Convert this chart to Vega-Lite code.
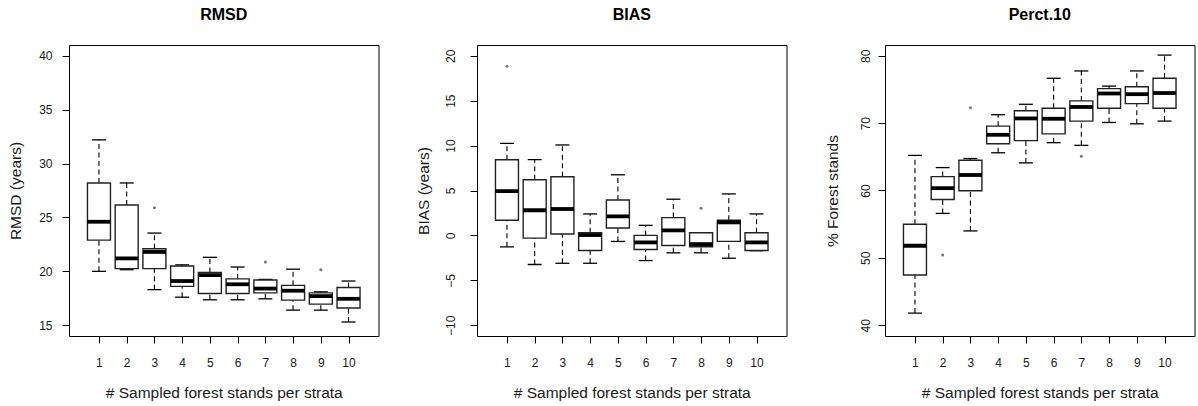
{
  "$schema": "https://vega.github.io/schema/vega-lite/v6.json",
  "autosize": {"type": "pad"},
  "padding": {"left": 7, "top": 6, "right": 1, "bottom": 3},
  "background": "white",
  "config": {
    "font": "Liberation Sans",
    "view": {"stroke": "black", "strokeWidth": 1},
    "concat": {"spacing": 98},
    "axis": {"grid": false, "domain": false, "tickColor": "black", "tickSize": 7, "labelColor": "#1a1a1a", "labelFontSize": 12, "titleColor": "#1a1a1a", "titleFontSize": 15.5, "titleFontWeight": "normal", "labelFont": "Liberation Sans", "titleFont": "Liberation Sans"},
    "title": {"fontSize": 16, "fontWeight": "bold", "color": "black", "baseline": "middle", "offset": 22, "font": "Liberation Sans"}
  },
  "bounds": "flush",
  "datasets": {
    "rmsd": [
      {"n": 1, "lo": 20.0, "q1": 22.9, "med": 24.6, "q3": 28.2, "hi": 32.2},
      {"n": 2, "lo": 20.15, "q1": 20.25, "med": 21.2, "q3": 26.15, "hi": 28.2},
      {"n": 3, "lo": 18.3, "q1": 20.25, "med": 21.8, "q3": 22.1, "hi": 23.55},
      {"n": 4, "lo": 17.6, "q1": 18.6, "med": 19.1, "q3": 20.5, "hi": 20.6},
      {"n": 5, "lo": 17.36, "q1": 17.95, "med": 19.65, "q3": 19.9, "hi": 21.3},
      {"n": 6, "lo": 17.36, "q1": 17.95, "med": 18.8, "q3": 19.3, "hi": 20.4},
      {"n": 7, "lo": 17.45, "q1": 18.0, "med": 18.4, "q3": 19.2, "hi": 19.25},
      {"n": 8, "lo": 16.4, "q1": 17.33, "med": 18.2, "q3": 18.7, "hi": 20.2},
      {"n": 9, "lo": 16.4, "q1": 16.96, "med": 17.7, "q3": 18.0, "hi": 18.1},
      {"n": 10, "lo": 15.3, "q1": 16.6, "med": 17.45, "q3": 18.5, "hi": 19.1}
    ],
    "rmsdOut": [
      {"n": 3, "v": 25.9},
      {"n": 7, "v": 20.87},
      {"n": 9, "v": 20.15}
    ],
    "bias": [
      {"n": 1, "lo": -1.27, "q1": 1.68, "med": 4.92, "q3": 8.43, "hi": 10.25},
      {"n": 2, "lo": -3.24, "q1": -0.3, "med": 2.8, "q3": 6.19, "hi": 8.43},
      {"n": 3, "lo": -3.1, "q1": 0.15, "med": 2.94, "q3": 6.53, "hi": 10.07},
      {"n": 4, "lo": -3.1, "q1": -1.68, "med": 0.04, "q3": 0.3, "hi": 2.39},
      {"n": 5, "lo": -0.67, "q1": 0.82, "med": 2.12, "q3": 3.95, "hi": 6.75},
      {"n": 6, "lo": -2.8, "q1": -1.57, "med": -0.78, "q3": 0.0, "hi": 1.12},
      {"n": 7, "lo": -1.94, "q1": -1.12, "med": 0.56, "q3": 1.98, "hi": 4.03},
      {"n": 8, "lo": -1.94, "q1": -1.27, "med": -0.97, "q3": 0.3, "hi": 0.3},
      {"n": 9, "lo": -2.54, "q1": -0.67, "med": 1.45, "q3": 1.68, "hi": 4.62},
      {"n": 10, "lo": -1.7, "q1": -1.68, "med": -0.78, "q3": 0.3, "hi": 2.39}
    ],
    "biasOut": [
      {"n": 1, "v": 18.83},
      {"n": 8, "v": 3.02}
    ],
    "perc": [
      {"n": 1, "lo": 41.8, "q1": 47.45, "med": 51.8, "q3": 55.0, "hi": 65.2},
      {"n": 2, "lo": 56.6, "q1": 58.66, "med": 60.35, "q3": 62.06, "hi": 63.4},
      {"n": 3, "lo": 54.0, "q1": 59.97, "med": 62.3, "q3": 64.5, "hi": 64.74},
      {"n": 4, "lo": 65.6, "q1": 66.93, "med": 68.27, "q3": 69.55, "hi": 71.25},
      {"n": 5, "lo": 64.1, "q1": 67.4, "med": 70.7, "q3": 71.85, "hi": 72.8},
      {"n": 6, "lo": 67.1, "q1": 68.4, "med": 70.65, "q3": 72.2, "hi": 76.66},
      {"n": 7, "lo": 66.7, "q1": 70.3, "med": 72.4, "q3": 73.3, "hi": 77.75},
      {"n": 8, "lo": 70.1, "q1": 72.2, "med": 74.4, "q3": 75.13, "hi": 75.5},
      {"n": 9, "lo": 69.9, "q1": 72.9, "med": 74.3, "q3": 75.4, "hi": 77.75},
      {"n": 10, "lo": 70.3, "q1": 72.2, "med": 74.47, "q3": 76.66, "hi": 80.1}
    ],
    "percOut": [
      {"n": 2, "v": 50.43},
      {"n": 3, "v": 72.3},
      {"n": 7, "v": 65.1}
    ]
  },
  "hconcat": [
    {
      "width": 309.5, "height": 291,
      "title": "RMSD",
      "data": {"name": "rmsd"},
      "encoding": {
        "x": {"field": "n", "type": "quantitative", "scale": {"domain": [0.1, 10.9], "nice": false, "zero": false},
          "axis": {"values": [1,2,3,4,5,6,7,8,9,10], "labelPadding": 14, "labelFlush": false, "title": "# Sampled forest stands per strata", "titleY": 56, "titleBaseline": "middle"}}
      },
      "layer": [
        {"mark": {"type": "rule", "strokeDash": [5, 3.5], "color": "black", "strokeWidth": 1.1}, "encoding": {"y": {"field": "q3", "type": "quantitative", "scale": {"domain": [14, 41], "nice": false, "zero": false}, "axis": {"values": [15,20,25,30,35,40], "labelAngle": 0, "labelPadding": 10, "title": "RMSD  (years)", "titleX": -54, "titleBaseline": "middle"}}, "y2": {"field": "hi"}}},
        {"mark": {"type": "rule", "strokeDash": [5, 3.5], "color": "black", "strokeWidth": 1.1}, "encoding": {"y": {"field": "lo", "type": "quantitative"}, "y2": {"field": "q1"}}},
        {"mark": {"type": "tick", "orient": "horizontal", "size": 14, "thickness": 1.3, "color": "black", "opacity": 1}, "encoding": {"y": {"field": "hi", "type": "quantitative"}}},
        {"mark": {"type": "tick", "orient": "horizontal", "size": 14, "thickness": 1.3, "color": "black", "opacity": 1}, "encoding": {"y": {"field": "lo", "type": "quantitative"}}},
        {"mark": {"type": "bar", "orient": "vertical", "size": 23, "fill": "white", "stroke": "#222", "strokeWidth": 1.4}, "encoding": {"y": {"field": "q1", "type": "quantitative"}, "y2": {"field": "q3"}}},
        {"mark": {"type": "tick", "orient": "horizontal", "size": 23, "thickness": 3.8, "color": "black", "opacity": 1}, "encoding": {"y": {"field": "med", "type": "quantitative"}}},
        {"data": {"name": "rmsdOut"}, "mark": {"type": "point", "shape": "circle", "size": 9, "filled": true, "color": "#777", "opacity": 1}, "encoding": {"y": {"field": "v", "type": "quantitative"}}}
      ]
    },
    {
      "width": 309.5, "height": 291,
      "title": "BIAS",
      "data": {"name": "bias"},
      "encoding": {
        "x": {"field": "n", "type": "quantitative", "scale": {"domain": [0.1, 10.9], "nice": false, "zero": false},
          "axis": {"values": [1,2,3,4,5,6,7,8,9,10], "labelPadding": 14, "labelFlush": false, "title": "# Sampled forest stands per strata", "titleY": 56, "titleBaseline": "middle"}}
      },
      "layer": [
        {"mark": {"type": "rule", "strokeDash": [5, 3.5], "color": "black", "strokeWidth": 1.1}, "encoding": {"y": {"field": "q3", "type": "quantitative", "scale": {"domain": [-11.2, 21.2], "nice": false, "zero": false}, "axis": {"values": [-10,-5,0,5,10,15,20], "labelAngle": -90, "labelAlign": "center", "labelBaseline": "middle", "labelPadding": 19.5, "labelFlush": false, "title": "BIAS  (years)", "titleX": -53.5, "titleBaseline": "middle"}}, "y2": {"field": "hi"}}},
        {"mark": {"type": "rule", "strokeDash": [5, 3.5], "color": "black", "strokeWidth": 1.1}, "encoding": {"y": {"field": "lo", "type": "quantitative"}, "y2": {"field": "q1"}}},
        {"mark": {"type": "tick", "orient": "horizontal", "size": 14, "thickness": 1.3, "color": "black", "opacity": 1}, "encoding": {"y": {"field": "hi", "type": "quantitative"}}},
        {"mark": {"type": "tick", "orient": "horizontal", "size": 14, "thickness": 1.3, "color": "black", "opacity": 1}, "encoding": {"y": {"field": "lo", "type": "quantitative"}}},
        {"mark": {"type": "bar", "orient": "vertical", "size": 23, "fill": "white", "stroke": "#222", "strokeWidth": 1.4}, "encoding": {"y": {"field": "q1", "type": "quantitative"}, "y2": {"field": "q3"}}},
        {"mark": {"type": "tick", "orient": "horizontal", "size": 23, "thickness": 3.8, "color": "black", "opacity": 1}, "encoding": {"y": {"field": "med", "type": "quantitative"}}},
        {"data": {"name": "biasOut"}, "mark": {"type": "point", "shape": "circle", "size": 9, "filled": true, "color": "#777", "opacity": 1}, "encoding": {"y": {"field": "v", "type": "quantitative"}}}
      ]
    },
    {
      "width": 309.5, "height": 291,
      "title": "Perct.10",
      "data": {"name": "perc"},
      "encoding": {
        "x": {"field": "n", "type": "quantitative", "scale": {"domain": [0.1, 10.9], "nice": false, "zero": false},
          "axis": {"values": [1,2,3,4,5,6,7,8,9,10], "labelPadding": 14, "labelFlush": false, "title": "# Sampled forest stands per strata", "titleY": 56, "titleBaseline": "middle"}}
      },
      "layer": [
        {"mark": {"type": "rule", "strokeDash": [5, 3.5], "color": "black", "strokeWidth": 1.1}, "encoding": {"y": {"field": "q3", "type": "quantitative", "scale": {"domain": [38.4, 81.6], "nice": false, "zero": false}, "axis": {"values": [40,50,60,70,80], "labelAngle": -90, "labelAlign": "center", "labelBaseline": "middle", "labelPadding": 13, "labelFlush": false, "title": "% Forest stands", "titleX": -53, "titleBaseline": "middle"}}, "y2": {"field": "hi"}}},
        {"mark": {"type": "rule", "strokeDash": [5, 3.5], "color": "black", "strokeWidth": 1.1}, "encoding": {"y": {"field": "lo", "type": "quantitative"}, "y2": {"field": "q1"}}},
        {"mark": {"type": "tick", "orient": "horizontal", "size": 14, "thickness": 1.3, "color": "black", "opacity": 1}, "encoding": {"y": {"field": "hi", "type": "quantitative"}}},
        {"mark": {"type": "tick", "orient": "horizontal", "size": 14, "thickness": 1.3, "color": "black", "opacity": 1}, "encoding": {"y": {"field": "lo", "type": "quantitative"}}},
        {"mark": {"type": "bar", "orient": "vertical", "size": 23, "fill": "white", "stroke": "#222", "strokeWidth": 1.4}, "encoding": {"y": {"field": "q1", "type": "quantitative"}, "y2": {"field": "q3"}}},
        {"mark": {"type": "tick", "orient": "horizontal", "size": 23, "thickness": 3.8, "color": "black", "opacity": 1}, "encoding": {"y": {"field": "med", "type": "quantitative"}}},
        {"data": {"name": "percOut"}, "mark": {"type": "point", "shape": "circle", "size": 9, "filled": true, "color": "#777", "opacity": 1}, "encoding": {"y": {"field": "v", "type": "quantitative"}}}
      ]
    }
  ]
}
